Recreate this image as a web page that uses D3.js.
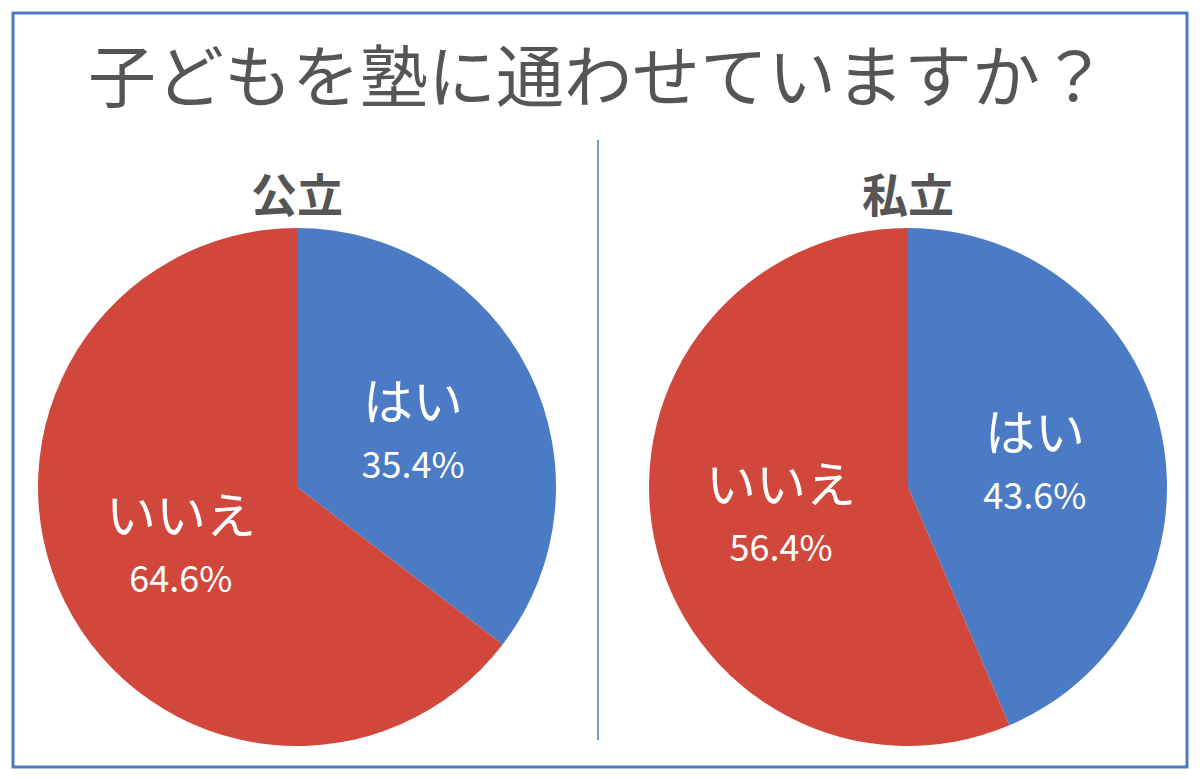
<!DOCTYPE html>
<html><head><meta charset="utf-8">
<script src="https://cdn.jsdelivr.net/npm/d3@7"></script>
<style>body{margin:0;background:#fff}text{font-family:"Noto Sans CJK JP","Noto Sans",sans-serif}</style>
</head><body><svg id="c" width="1200" height="780"></svg>
<script>
var title = "子どもを塾に通わせていますか？";
var groups = ["公立", "私立"];
var answers = ["はい", "いいえ"];
var values = [[35.4, 64.6], [43.6, 56.4]];
var colors = ["#4a7bc4", "#d2473b"];

var svg = d3.select("#c");
svg.append("rect").attr("x", 13).attr("y", 13).attr("width", 1174).attr("height", 754)
    .attr("fill", "none").attr("stroke", "#4a7bc4").attr("stroke-width", 3);
svg.append("text").attr("x", 598).attr("y", 102).attr("text-anchor", "middle")
    .attr("font-size", 68).attr("fill", "#555").text(title);
svg.append("line").attr("x1", 598).attr("x2", 598).attr("y1", 140).attr("y2", 740)
    .attr("stroke", "#4a7bc4").attr("stroke-width", 1.5);

var cx = d3.scaleBand().domain(groups).range([0, 1200]).padding(0);
var r = 259;
var pie = d3.pie().sort(null).value(function(d){ return d; });
var arc = d3.arc().innerRadius(0).outerRadius(r);
var labelArc = d3.arc().innerRadius(r * 0.5).outerRadius(r * 0.5);

groups.forEach(function(name, gi){
    var x = cx(name) + cx.bandwidth() / 2 + (gi === 0 ? -3 : 8);
    svg.append("text").attr("x", x).attr("y", 212).attr("text-anchor", "middle")
        .attr("font-size", 46).attr("font-weight", "bold").attr("fill", "#555").text(name);
    var g = svg.append("g").attr("transform", "translate(" + x + ",487)");
    var arcs = pie(values[gi]);
    g.selectAll("path").data(arcs).enter().append("path")
        .attr("d", arc).attr("fill", function(d, i){ return colors[i]; });
    var lab = g.selectAll("g.l").data(arcs).enter().append("g")
        .attr("transform", function(d){ return "translate(" + labelArc.centroid(d) + ")"; });
    lab.append("text").attr("text-anchor", "middle").attr("y", -10)
        .attr("font-size", 50).attr("fill", "#fff").text(function(d, i){ return answers[i]; });
    lab.append("text").attr("text-anchor", "middle").attr("y", 48)
        .attr("font-size", 36).attr("fill", "#fff").text(function(d){ return d.data.toFixed(1) + "%"; });
});
</script></body></html>
